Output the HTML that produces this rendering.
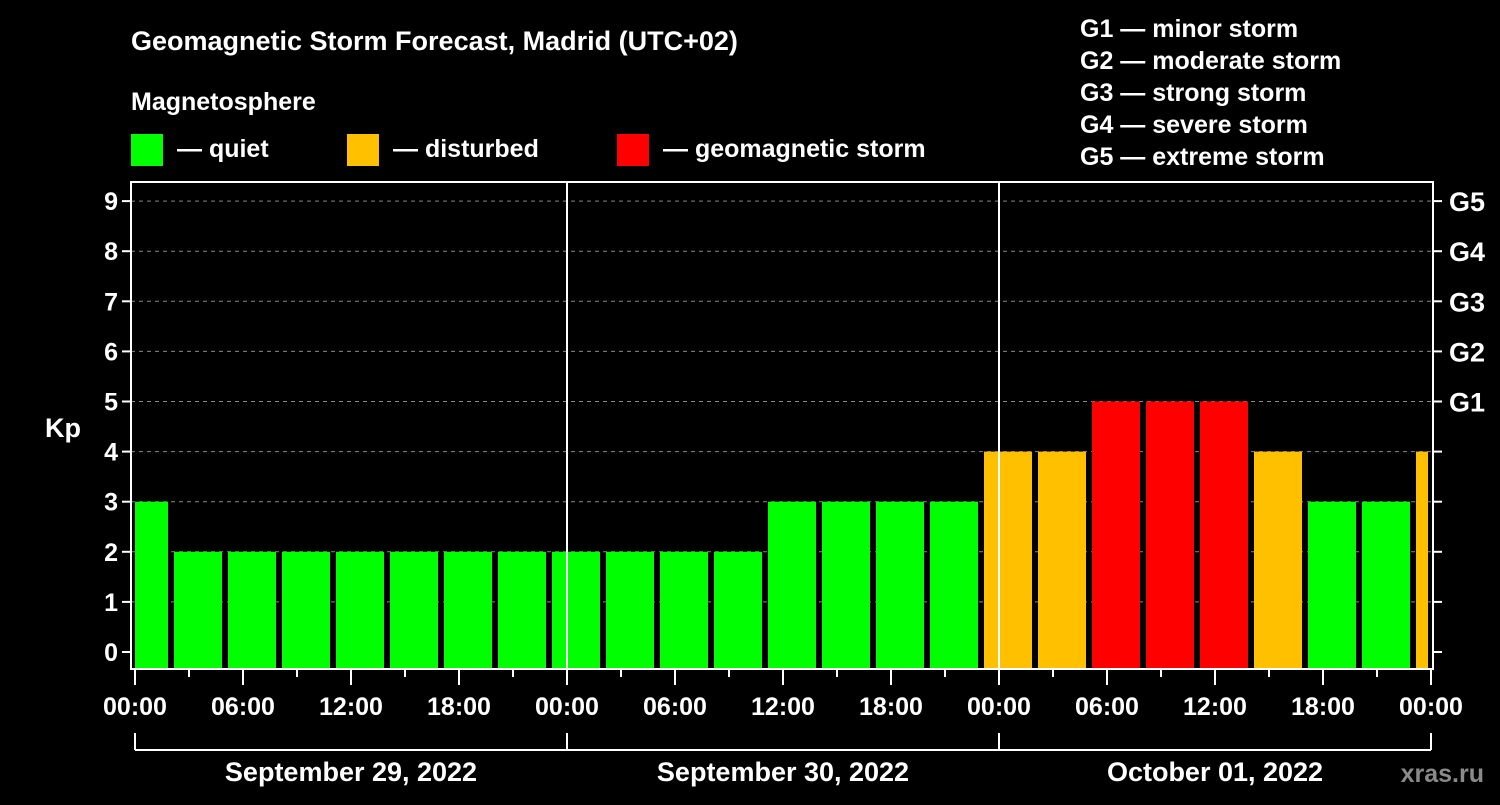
<!DOCTYPE html>
<html><head><meta charset="utf-8"><style>
body{margin:0;background:#000;}
svg text{font-family:"Liberation Sans",Arial,sans-serif;font-weight:bold;fill:#fff;}
</style></head><body>
<svg id="chart" width="1500" height="800" xmlns="http://www.w3.org/2000/svg">
<rect width="1500" height="800" fill="#000"/>
<text x="131" y="50" font-size="27">Geomagnetic Storm Forecast, Madrid (UTC+02)</text>
<text x="131" y="110" font-size="25">Magnetosphere</text>
<g>
<rect x="131" y="134" width="32" height="32" fill="#00ff00"/>
<text x="177" y="157" font-size="25">— quiet</text>
<rect x="347" y="134" width="32" height="32" fill="#ffc000"/>
<text x="393" y="157" font-size="25">— disturbed</text>
<rect x="617" y="134" width="32" height="32" fill="#ff0000"/>
<text x="663" y="157" font-size="25">— geomagnetic storm</text>
</g>
<g font-size="25">
<text x="1080" y="37">G1 — minor storm</text>
<text x="1080" y="69">G2 — moderate storm</text>
<text x="1080" y="101">G3 — strong storm</text>
<text x="1080" y="133">G4 — severe storm</text>
<text x="1080" y="165">G5 — extreme storm</text>
</g>
<text x="63" y="437" font-size="27" text-anchor="middle">Kp</text>
<text x="1484" y="782" font-size="25" text-anchor="end" fill="#888" style="fill:#8a8a8a">xras.ru</text>
<g id="plot"></g>
</svg>
<script>
const kpValues=[3,2,2,2,2,2,2,2,2,2,2,2,3,3,3,3,4,4,5,5,5,4,3,3,4];
const binStartHour=-1;
const binHours=3;
const yTicks=[0,1,2,3,4,5,6,7,8,9];
const gLabels=["G1","G2","G3","G4","G5"];
const xTickLabels=["00:00","06:00","12:00","18:00","00:00","06:00","12:00","18:00","00:00","06:00","12:00","18:00","00:00"];
const dayLabels=["September 29, 2022","September 30, 2022","October 01, 2022"];

const NS="http://www.w3.org/2000/svg";
const L=131,R=1433,T=182,B=669,X0=135,PXH=18;
const x=h=>X0+h*PXH;
const y=v=>652-v*50.1;
const g=document.getElementById('plot');
function mk(tag,attrs,parent){const e=document.createElementNS(NS,tag);for(const k in attrs)e.setAttribute(k,attrs[k]);(parent||g).appendChild(e);return e;}
// grid
yTicks.forEach(v=>{if(v>0){const l=mk('line',{x1:L,x2:R,y1:y(v),y2:y(v),stroke:'#888','stroke-dasharray':'4,4','stroke-width':1});

}});
// bars
kpValues.forEach((v,i)=>{
 let a=x(binStartHour+i*binHours)+3,b=x(binStartHour+(i+1)*binHours)-3;
 a=Math.max(a,L+4);b=Math.min(b,R-5);
 const c=v>=5?'#ff0000':(v>=4?'#ffc000':'#00ff00');
 const r=mk('rect',{x:a,y:y(v),width:b-a,height:B-y(v),fill:c});
 
 
});
// day dividers
[24,48].forEach(h=>{const l=mk('line',{x1:x(h),x2:x(h),y1:T,y2:B,stroke:'#fff','stroke-width':2});

});
// frame
const f=mk('rect',{x:L,y:T,width:R-L,height:B-T,fill:'none',stroke:'#fff','stroke-width':2});


// y ticks
yTicks.forEach(v=>{
 mk('line',{x1:L-9,x2:L,y1:y(v),y2:y(v),stroke:'#fff','stroke-width':2});
 mk('line',{x1:R,x2:R+9,y1:y(v),y2:y(v),stroke:'#fff','stroke-width':2});
 const t=mk('text',{x:118,y:y(v)+9,'font-size':25,'text-anchor':'end'});t.textContent=v;
 
 
 if(v>=5){const gt=mk('text',{x:1449,y:y(v)+10,'font-size':27});gt.textContent=gLabels[v-5];
 
 }
});
// x ticks
for(let h=0;h<=72;h+=3){const major=h%6===0;mk('line',{x1:x(h),x2:x(h),y1:B,y2:B+(major?16:8),stroke:'#fff','stroke-width':2});}
xTickLabels.forEach((s,i)=>{const t=mk('text',{x:x(i*6),y:715,'font-size':25,'text-anchor':'middle'});t.textContent=s;
 
 });
// day brackets
mk('line',{x1:x(0),x2:x(72),y1:750,y2:750,stroke:'#fff','stroke-width':2});
[0,24,48,72].forEach(h=>mk('line',{x1:x(h),x2:x(h),y1:733,y2:750,stroke:'#fff','stroke-width':2}));
dayLabels.forEach((s,i)=>{const t=mk('text',{x:x(i*24+12),y:781,'font-size':27,'text-anchor':'middle'});t.textContent=s;
 
 });
</script>
</body></html>
